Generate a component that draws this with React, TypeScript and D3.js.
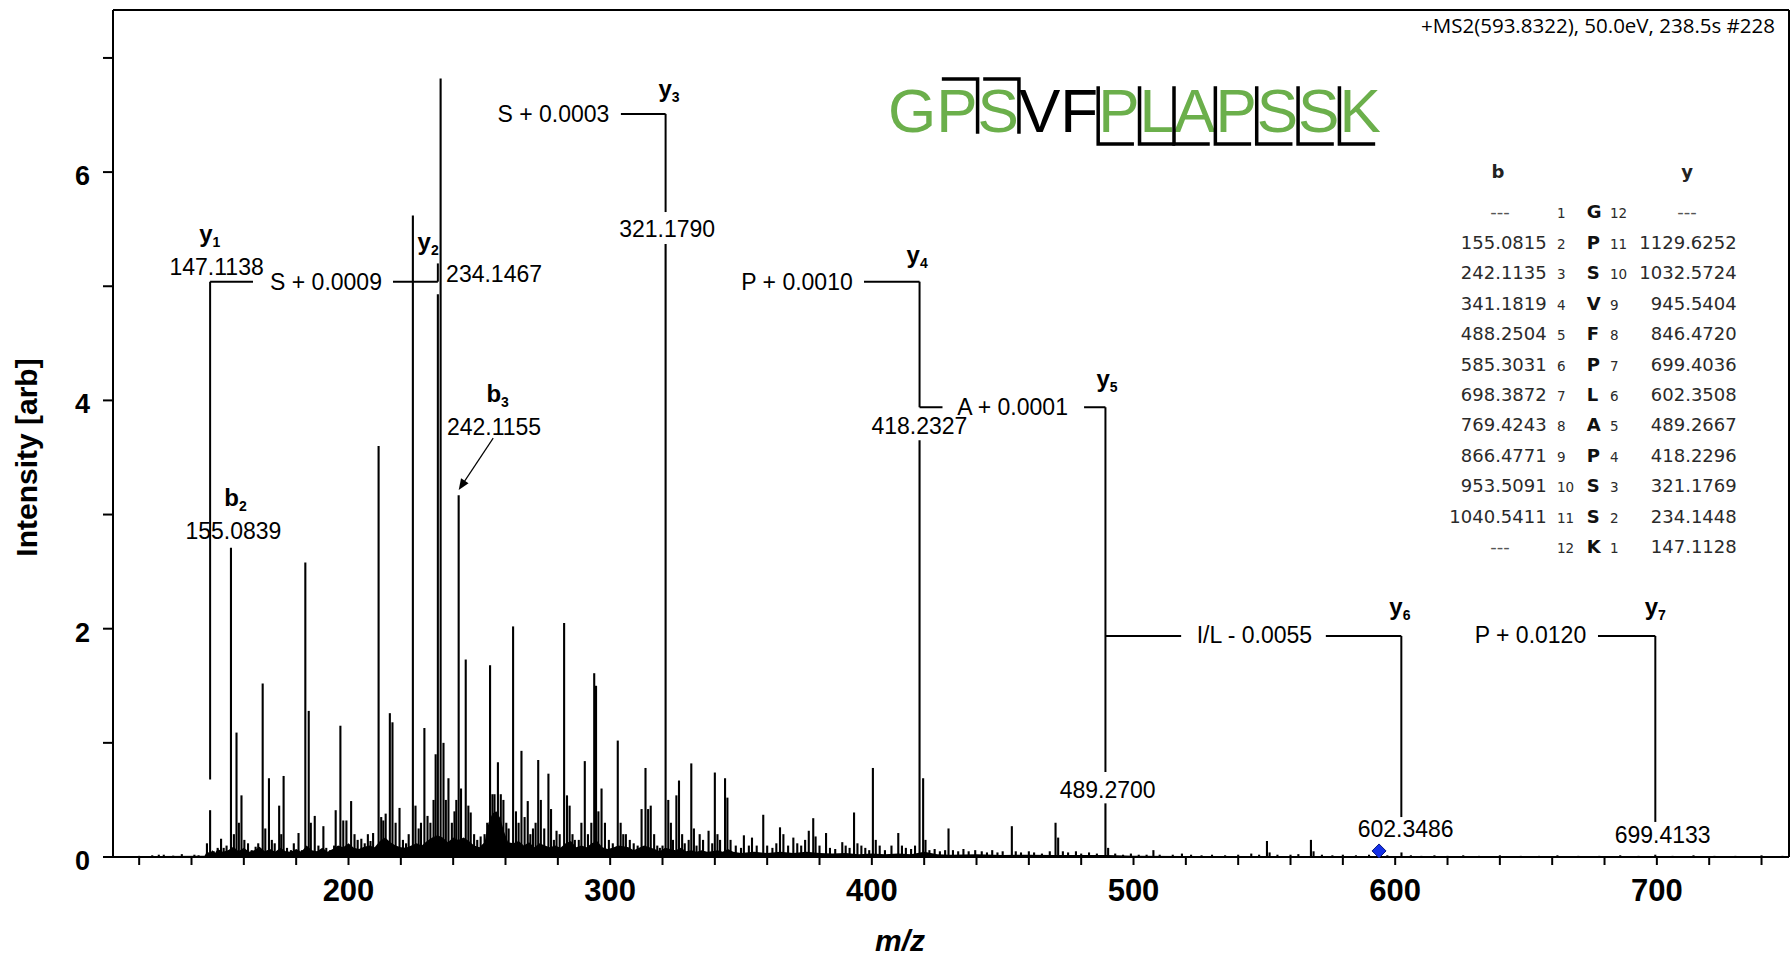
import React from 'react';
import * as d3 from 'd3';

const W = 1791;
const H = 957;

// ---- spectrum sticks (m/z, intensity) ----
const peakMz = [
  120, 125, 127.5, 129.4, 133, 136.3, 141.1, 142.7,
  145.9, 147.11, 148.5, 150.0, 151.3, 152.3, 153.4, 154.3, 155.08, 156.2, 157.2, 158.1, 159.1, 160.2,
  161.6, 163.0, 164.5, 165.5, 167.2, 168.2, 169.6, 170.7, 171.8, 173.5, 174.3, 175.2, 176.5, 178.0,
  179.1, 180.9, 182.2, 183.5, 184.8, 185.6, 187.1, 188.5, 190.4, 191.5, 193.0, 194.5, 195.1, 196.9,
  198.0, 199.2, 201.0, 202.3, 203.5, 204.9, 206.2, 207.4, 208.4, 209.4, 211.5, 212.5, 213.3, 214.2,
  215.8, 216.8, 218.0, 219.5, 220.8, 222.0, 223.0, 224.6, 225.6, 226.8, 227.7, 229.0, 230.2, 231.3,
  232.5, 233.3, 234.15, 235.2, 236.3, 237.2, 238.2, 239.5, 240.5, 241.2, 242.1, 243.0, 244.8, 245.8,
  246.7, 248.0, 249.2, 250.5, 252.0, 253.0, 254.1, 255.0, 255.8, 257.1, 258.2, 259.2, 260.3, 261.2,
  262.9, 264.0, 265.0, 266.1, 267.3, 268.5, 269.5, 270.5, 271.5, 272.5, 273.5, 274.8, 276.4, 277.4,
  278.5, 279.5, 280.7, 282.4, 283.5, 284.5, 285.6, 286.5, 288.0, 289.0, 290.3, 291.5, 292.8, 293.9,
  294.6, 295.5, 296.7, 298.0, 299.5, 301.0, 302.9, 304.0, 305.0, 306.0, 307.5, 309.0, 310.5, 312.0,
  313.5, 314.5, 315.5, 316.8, 318.0, 319.0, 320.0, 321.18, 322.2, 323.2, 324.0, 325.3, 326.3, 327.5,
  328.5, 330.0, 331.0, 332.0, 333.0, 334.2, 335.5, 337.6, 339.0, 340.0, 341.0, 342.0, 343.9, 344.8,
  346.0, 348.0, 350.0, 351.1, 353.0, 354.2, 356.0, 358.5, 360.0, 362.0, 363.5, 364.9, 366.2, 368.0,
  370.0, 371.5, 373.0, 374.5, 375.9, 377.6, 378.5, 380.0, 382.5, 384.0, 386.0, 388.7, 390.0, 391.5,
  393.2, 394.5, 396.0, 397.5, 399.0, 400.4, 401.5, 403.0, 405.0, 407.5, 410.1, 411.5, 413.0, 415.0,
  416.5, 418.23, 419.6, 420.5, 422.0, 424.0, 426.0, 428.0, 429.3, 431.0, 433.0, 435.0, 437.0, 439.5,
  442.0, 444.0, 446.0, 448.0, 450.0, 453.5, 455.0, 457.0, 460.0, 462.0, 465.0, 468.0, 470.2, 471.2,
  473.0, 475.0, 478.0, 480.0, 483.0, 486.0, 489.27, 490.3, 493.0, 496.0, 499.0, 502.0, 505.0, 507.6,
  510.0, 515.0, 518.5, 522.0, 526.0, 530.0, 535.0, 540.0, 545.0, 548.0, 551.0, 552.0, 555.0, 560.0,
  563.0, 567.8, 568.8, 572.0, 576.0, 580.0, 585.0, 590.0, 597.0, 602.4, 606.0, 610.0, 615.0, 620.0,
  626.0, 632.0, 640.0, 648.0, 655.0, 662.0, 670.0, 678.0, 686.0, 693.0, 699.4, 706.0, 714.0, 722.0,
  730.0, 740.0, 748.0,
];
const peakInt = [
  0.01, 0.015, 0.02, 0.02, 0.012, 0.025, 0.02, 0.015,
  0.12, 0.41, 0.05, 0.08, 0.16, 0.08, 0.10, 0.06, 2.71, 0.20, 1.09, 0.30, 0.54, 0.15,
  0.12, 0.06, 0.09, 0.12, 1.52, 0.25, 0.69, 0.15, 0.12, 0.45, 0.20, 0.71, 0.08, 0.06,
  0.12, 0.21, 0.06, 2.58, 1.28, 0.30, 0.36, 0.10, 0.27, 0.08, 0.06, 0.10, 0.41, 1.15,
  0.32, 0.32, 0.49, 0.20, 0.15, 0.16, 0.12, 0.20, 0.14, 0.21, 3.60, 0.35, 0.32, 0.38,
  1.26, 1.18, 0.30, 0.43, 0.15, 0.12, 0.20, 5.62, 0.45, 0.25, 0.30, 1.13, 0.36, 0.30,
  0.50, 0.90, 4.93, 6.82, 1.00, 0.50, 0.69, 0.30, 0.40, 0.50, 3.17, 0.60, 1.73, 0.45,
  0.39, 0.20, 0.15, 0.18, 0.20, 0.30, 1.68, 0.55, 0.55, 0.83, 0.55, 0.50, 0.30, 0.25,
  2.02, 0.40, 0.30, 0.93, 0.35, 0.49, 0.20, 0.25, 0.30, 0.85, 0.50, 0.25, 0.73, 0.42,
  0.15, 0.23, 0.20, 2.05, 0.54, 0.45, 0.20, 0.15, 0.15, 0.30, 0.84, 0.20, 0.30, 1.61,
  1.50, 0.40, 0.60, 0.30, 0.15, 0.12, 1.02, 0.30, 0.20, 0.20, 0.15, 0.12, 0.10, 0.42,
  0.78, 0.42, 0.45, 0.20, 0.10, 0.08, 0.10, 5.37, 0.50, 0.30, 0.15, 0.54, 0.67, 0.20,
  0.12, 0.15, 0.82, 0.25, 0.10, 0.20, 0.15, 0.23, 0.12, 0.74, 0.20, 0.15, 0.69, 0.52,
  0.15, 0.10, 0.08, 0.19, 0.10, 0.17, 0.10, 0.37, 0.10, 0.08, 0.12, 0.26, 0.20, 0.10,
  0.17, 0.12, 0.10, 0.15, 0.23, 0.34, 0.18, 0.10, 0.21, 0.08, 0.07, 0.13, 0.10, 0.08,
  0.39, 0.12, 0.10, 0.08, 0.06, 0.78, 0.15, 0.10, 0.06, 0.10, 0.21, 0.10, 0.08, 0.07,
  0.10, 3.65, 0.69, 0.15, 0.06, 0.07, 0.05, 0.06, 0.25, 0.06, 0.05, 0.07, 0.05, 0.06,
  0.05, 0.04, 0.06, 0.04, 0.05, 0.27, 0.05, 0.04, 0.05, 0.04, 0.03, 0.05, 0.30, 0.17,
  0.05, 0.04, 0.05, 0.03, 0.04, 0.03, 0.47, 0.08, 0.03, 0.02, 0.03, 0.02, 0.02, 0.06,
  0.02, 0.02, 0.03, 0.02, 0.015, 0.02, 0.015, 0.02, 0.03, 0.02, 0.14, 0.04, 0.02, 0.02,
  0.025, 0.15, 0.05, 0.02, 0.015, 0.02, 0.015, 0.02, 0.015, 0.04, 0.015, 0.01, 0.015, 0.01,
  0.015, 0.01, 0.015, 0.01, 0.01, 0.015, 0.01, 0.01, 0.015, 0.01, 0.02, 0.01, 0.015, 0.01,
  0.01, 0.015, 0.01,
];

// ---- jagged noise floor ----
const floorMz = [
  110, 145, 146, 147, 148, 149, 150, 152, 154, 156, 158, 160, 162, 164, 166, 168, 170, 172, 174, 176,
  178, 180, 182, 184, 186, 188, 190, 192, 194, 196, 198, 200, 202, 204, 206, 208, 210, 212, 214, 216,
  218, 220, 222, 224, 226, 228, 230, 232, 234, 236, 238, 240, 242, 244, 246, 248, 250, 252, 253.5, 255,
  256.5, 258, 259.5, 261, 263, 265, 267, 269, 271, 273, 275, 277, 279, 281, 283, 285, 287, 289, 291, 293,
  295, 297, 299, 301, 303, 305, 307, 309, 311, 313, 315, 317, 319, 321, 323, 325, 327, 329, 331, 333,
  335, 337, 339, 341, 343, 345, 347, 350, 355, 360, 365, 370, 375, 380, 385, 390, 395, 400, 405, 410,
  415, 420, 425, 430, 440, 450, 460, 470, 480, 490, 500, 520, 560, 600, 750.5,
];
const floorInt = [
  0.006, 0.01, 0.05, 0.03, 0.06, 0.035, 0.07, 0.045, 0.06, 0.09, 0.05, 0.08, 0.045, 0.06, 0.09, 0.05, 0.07, 0.045, 0.08, 0.05,
  0.045, 0.07, 0.045, 0.1, 0.06, 0.05, 0.08, 0.045, 0.07, 0.1, 0.085, 0.12, 0.08, 0.07, 0.09, 0.1, 0.085, 0.14, 0.17, 0.13,
  0.1, 0.085, 0.08, 0.1, 0.12, 0.1, 0.14, 0.17, 0.19, 0.17, 0.13, 0.17, 0.15, 0.17, 0.14, 0.1, 0.085, 0.13, 0.3, 0.38,
  0.4, 0.34, 0.22, 0.13, 0.12, 0.14, 0.1, 0.13, 0.085, 0.12, 0.1, 0.085, 0.1, 0.08, 0.12, 0.14, 0.085, 0.1, 0.085, 0.12,
  0.14, 0.085, 0.07, 0.08, 0.1, 0.095, 0.085, 0.06, 0.08, 0.1, 0.085, 0.07, 0.05, 0.08, 0.07, 0.06, 0.08, 0.05, 0.06, 0.045,
  0.06, 0.045, 0.05, 0.06, 0.045, 0.07, 0.045, 0.035, 0.045, 0.035, 0.045, 0.035, 0.045, 0.035, 0.03, 0.035, 0.025, 0.03, 0.025, 0.03,
  0.025, 0.045, 0.025, 0.02, 0.025, 0.018, 0.02, 0.018, 0.018, 0.018, 0.01, 0.008, 0.008, 0.007, 0.007,
];

// ---- axes ----
const xMajorTicks = [200, 300, 400, 500, 600, 700];
const xMinorTicks = [120, 140, 160, 180, 220, 240, 260, 280, 320, 340, 360, 380, 420, 440, 460, 480, 520, 540, 560, 580, 620, 640, 660, 680, 720, 740];
const yMajorTicks = [0, 2, 4, 6];
const yMinorTicks = [1, 3, 5, 7];

// ---- fragment annotations ----
const yIonIndex = ['1', '2', '3', '4', '5', '6', '7'];
const yIonMz = [147.1138, 234.1467, 321.179, 418.2327, 489.27, 602.3486, 699.4133];
const yIonText = ['147.1138', '234.1467', '321.1790', '418.2327', '489.2700', '602.3486', '699.4133'];
const deltaText = ['S + 0.0009', 'S + 0.0003', 'P + 0.0010', 'A + 0.0001', 'I/L - 0.0055', 'P + 0.0120'];
const bIonIndex = ['2', '3'];
const bIonMz = [155.0839, 242.1155];
const bIonText = ['155.0839', '242.1155'];
const precursorMz = 593.8322;
const precursorInt = 0.053;

// ---- peptide & table ----
const residues = ['G', 'P', 'S', 'V', 'F', 'P', 'L', 'A', 'P', 'S', 'S', 'K'];
const residueGreen = [true, true, true, false, false, true, true, true, true, true, true, true];
const bCuts = [2, 3];
const yCuts = [5, 6, 7, 8, 9, 10, 11];
const bTable = ['---', '155.0815', '242.1135', '341.1819', '488.2504', '585.3031', '698.3872', '769.4243', '866.4771', '953.5091', '1040.5411', '---'];
const yTable = ['---', '1129.6252', '1032.5724', '945.5404', '846.4720', '699.4036', '602.3508', '489.2667', '418.2296', '321.1769', '234.1448', '147.1128'];

const title = '+MS2(593.8322), 50.0eV, 238.5s #228';

const ARIAL = '"Liberation Sans", Arial, Helvetica, sans-serif';
const VERD = '"DejaVu Sans", Verdana, sans-serif';
const GREEN = '#6BAF4B';
// Arial / Liberation Sans advance widths (em) for the residue letters
const ARIAL_ADV: Record<string, number> = { G: 0.778, P: 0.667, S: 0.667, V: 0.667, F: 0.611, L: 0.556, A: 0.667, K: 0.667 };

export default function App() {
  const X = d3.scaleLinear().domain([110, 750.5]).range([113, 1789]);
  const Y = d3.scaleLinear().domain([0, 7.42]).range([857, 10]);
  const floorPath = d3
    .area<number>()
    .x((_, i) => X(floorMz[i]))
    .y0(Y(0))
    .y1((d) => Y(d))(floorInt) as string;

  // annotation segments in data units [mz1, I1, mz2, I2]
  const segs: [number, number, number, number][] = [
    [yIonMz[0], 0.68, yIonMz[0], 5.04],
    [yIonMz[0], 5.04, 163.5, 5.04],
    [217.0, 5.04, yIonMz[1], 5.04],
    [yIonMz[1], 5.04, yIonMz[1], 5.2],
    [304.1, 6.51, yIonMz[2], 6.51],
    [yIonMz[2], 6.51, yIonMz[2], 5.65],
    [397.0, 5.04, yIonMz[3], 5.04],
    [yIonMz[3], 5.04, yIonMz[3], 3.94],
    [yIonMz[3], 3.94, 427.0, 3.94],
    [481.1, 3.94, yIonMz[4], 3.94],
    [yIonMz[4], 3.94, yIonMz[4], 0.745],
    [yIonMz[4], 1.936, 518.2, 1.936],
    [573.5, 1.936, yIonMz[5], 1.936],
    [yIonMz[5], 1.936, yIonMz[5], 0.35],
    [677.5, 1.936, yIonMz[6], 1.936],
    [yIonMz[6], 1.936, yIonMz[6], 0.307],
  ];

  const yLabelPos: [number, number, string][] = [
    [147.0, 5.39, 'middle'],
    [234.5, 5.32, 'end'],
    [322.5, 6.66, 'middle'],
    [417.3, 5.2, 'middle'],
    [489.9, 4.12, 'middle'],
    [601.8, 2.12, 'middle'],
    [699.4, 2.12, 'middle'],
  ];
  const yTextPos: [number, number, string][] = [
    [149.6, 5.1, 'middle'],
    [237.3, 5.04, 'start'],
    [321.8, 5.43, 'middle'],
    [418.2, 3.71, 'middle'],
    [490.1, 0.517, 'middle'],
    [604.0, 0.175, 'middle'],
    [702.2, 0.123, 'middle'],
  ];
  const deltaPos: [number, number][] = [
    [191.4, 4.97],
    [278.3, 6.44],
    [371.4, 4.97],
    [453.8, 3.87],
    [546.2, 1.875],
    [651.7, 1.875],
  ];
  const bLabelPos: [number, number][] = [
    [156.8, 3.075],
    [257.0, 3.99],
  ];
  const bTextPos: [number, number][] = [
    [156.0, 2.785],
    [255.6, 3.7],
  ];
  const arrow = { x1: X(255.3), y1: Y(3.67), x2: X(bIonMz[1]), y2: Y(3.215) };
  const ang = Math.atan2(arrow.y2 - arrow.y1, arrow.x2 - arrow.x1);
  const ah = 11;
  const aw = 4.5;
  const arrowHead = [
    [arrow.x2, arrow.y2],
    [arrow.x2 - ah * Math.cos(ang) + aw * Math.sin(ang), arrow.y2 - ah * Math.sin(ang) - aw * Math.cos(ang)],
    [arrow.x2 - ah * Math.cos(ang) - aw * Math.sin(ang), arrow.y2 - ah * Math.sin(ang) + aw * Math.cos(ang)],
  ]
    .map((p) => p.join(','))
    .join(' ');

  // peptide: natural Arial advances, cut positions at letter boundaries
  const pepX0 = 888;
  const pepSize = 62;
  const bounds = [pepX0];
  residues.forEach((r) => bounds.push(bounds[bounds.length - 1] + ARIAL_ADV[r] * pepSize));
  const cutX = (k: number) => bounds[k];
  const barLen = 34;

  const px = X(precursorMz);
  const py = Y(precursorInt);
  const dR = 7;

  const rowY = (i: number) => 218.3 + i * 30.45;

  const ionLabel = (letter: string, sub: string, x: number, y: number, anchor: string, key: string) => (
    <text key={key} x={x} y={y} textAnchor={anchor} fontFamily={ARIAL} fontWeight="bold" fontSize={24} fill="#000">
      {letter}
      <tspan fontSize={14} dy={5}>
        {sub}
      </tspan>
    </text>
  );

  return (
    <svg width={W} height={H} style={{ position: 'absolute', left: 0, top: 0, background: '#fff' }}>
      <rect x={0} y={0} width={W} height={H} fill="#fff" />

      {/* spectrum */}
      <path d={floorPath} fill="#000" />
      <g stroke="#000" strokeWidth={2.1}>
        {peakMz.map((m, i) => (
          <line key={i} x1={X(m)} x2={X(m)} y1={Y(0)} y2={Y(peakInt[i])} />
        ))}
      </g>

      {/* frame & axes */}
      <g stroke="#000" strokeWidth={2} fill="none">
        <line x1={X(110)} x2={X(750.5)} y1={Y(0)} y2={Y(0)} />
        <line x1={X(110)} x2={X(110)} y1={Y(0)} y2={Y(7.42)} />
        <line x1={X(110)} x2={X(750.5)} y1={Y(7.42)} y2={Y(7.42)} />
        <line x1={X(750.5)} x2={X(750.5)} y1={Y(7.42)} y2={Y(0)} />
        {[...xMajorTicks, ...xMinorTicks].map((t) => (
          <line key={'xt' + t} x1={X(t)} x2={X(t)} y1={Y(0)} y2={Y(0) + 8} />
        ))}
        {[...yMajorTicks, ...yMinorTicks].map((t) => (
          <line key={'yt' + t} x1={X(110)} x2={X(110) - 10} y1={Y(t)} y2={Y(t)} />
        ))}
      </g>
      {xMajorTicks.map((t) => (
        <text key={'xl' + t} x={X(t)} y={Y(0) + 44} textAnchor="middle" fontFamily={ARIAL} fontWeight="bold" fontSize={31}>
          {t}
        </text>
      ))}
      {yMajorTicks.map((t) => (
        <text key={'yl' + t} x={90} y={Y(t) + 13} textAnchor="end" fontFamily={ARIAL} fontWeight="bold" fontSize={27}>
          {t}
        </text>
      ))}
      <text x={900} y={951} textAnchor="middle" fontFamily={ARIAL} fontWeight="bold" fontStyle="italic" fontSize={30}>
        m/z
      </text>
      <text transform="translate(37,457.5) rotate(-90)" textAnchor="middle" fontFamily={ARIAL} fontWeight="bold" fontSize={30}>
        Intensity [arb]
      </text>

      {/* annotation brackets */}
      <g stroke="#000" strokeWidth={2}>
        {segs.map((s, i) => (
          <line key={'s' + i} x1={X(s[0])} y1={Y(s[1])} x2={X(s[2])} y2={Y(s[3])} />
        ))}
      </g>
      {yIonIndex.map((n, i) => ionLabel('y', n, X(yLabelPos[i][0]), Y(yLabelPos[i][1]), yLabelPos[i][2], 'yl' + i))}
      {yIonText.map((t, i) => (
        <text key={'yt' + i} x={X(yTextPos[i][0])} y={Y(yTextPos[i][1])} textAnchor={yTextPos[i][2]} fontFamily={ARIAL} fontSize={23}>
          {t}
        </text>
      ))}
      {deltaText.map((t, i) => (
        <text key={'d' + i} x={X(deltaPos[i][0])} y={Y(deltaPos[i][1])} textAnchor="middle" fontFamily={ARIAL} fontSize={23}>
          {t}
        </text>
      ))}
      {bIonIndex.map((n, i) => ionLabel('b', n, X(bLabelPos[i][0]), Y(bLabelPos[i][1]), 'middle', 'bl' + i))}
      {bIonText.map((t, i) => (
        <text key={'bt' + i} x={X(bTextPos[i][0])} y={Y(bTextPos[i][1])} textAnchor="middle" fontFamily={ARIAL} fontSize={23}>
          {t}
        </text>
      ))}
      <line x1={arrow.x1} y1={arrow.y1} x2={arrow.x2 - 8 * Math.cos(ang)} y2={arrow.y2 - 8 * Math.sin(ang)} stroke="#000" strokeWidth={1.2} />
      <polygon points={arrowHead} fill="#000" />

      {/* precursor marker */}
      <polygon
        points={`${px},${py - dR} ${px + dR},${py} ${px},${py + dR} ${px - dR},${py}`}
        fill="#1530e8"
        stroke="#0a1a80"
        strokeWidth={1}
      />

      {/* title */}
      <text x={1775} y={33} textAnchor="end" fontFamily='"Open Sans", sans-serif' fontSize={20.5} fill="#000">
        {title}
      </text>

      {/* peptide sequence */}
      <text x={pepX0} y={132} fontFamily={ARIAL} fontSize={pepSize}>
        {residues.map((r, i) => (
          <tspan key={'r' + i} fill={residueGreen[i] ? GREEN : '#000'}>
            {r}
          </tspan>
        ))}
      </text>
      <g stroke="#000" strokeWidth={3.5} fill="none" strokeLinecap="square">
        {bCuts.map((k) => (
          <path key={'bc' + k} d={`M${cutX(k) - barLen},79 L${cutX(k)},79 L${cutX(k)},132`} />
        ))}
        {yCuts.map((k) => (
          <path key={'yc' + k} d={`M${cutX(k)},88 L${cutX(k)},144 L${cutX(k) + barLen},144`} />
        ))}
      </g>

      {/* fragment table */}
      <text x={1498} y={178} textAnchor="middle" fontFamily={VERD} fontWeight="bold" fontSize={18} fill="#222">
        b
      </text>
      <text x={1687} y={178} textAnchor="middle" fontFamily={VERD} fontWeight="bold" fontSize={18} fill="#222">
        y
      </text>
      {residues.map((r, i) => (
        <g key={'row' + i} fontFamily={VERD} fill="#2a2a2a">
          {bTable[i] === '---' ? (
            <text x={1500} y={rowY(i)} textAnchor="middle" fontSize={18} fill="#555">
              ---
            </text>
          ) : (
            <text x={1546.7} y={rowY(i)} textAnchor="end" fontSize={18}>
              {bTable[i]}
            </text>
          )}
          <text x={1557} y={rowY(i)} fontSize={13.5}>
            {i + 1}
          </text>
          <text x={1586.7} y={rowY(i)} fontSize={18} fontWeight="bold" fill="#111">
            {r}
          </text>
          <text x={1610} y={rowY(i)} fontSize={13.5}>
            {residues.length - i}
          </text>
          {yTable[i] === '---' ? (
            <text x={1687} y={rowY(i)} textAnchor="middle" fontSize={18} fill="#555">
              ---
            </text>
          ) : (
            <text x={1736.7} y={rowY(i)} textAnchor="end" fontSize={18}>
              {yTable[i]}
            </text>
          )}
        </g>
      ))}
    </svg>
  );
}
